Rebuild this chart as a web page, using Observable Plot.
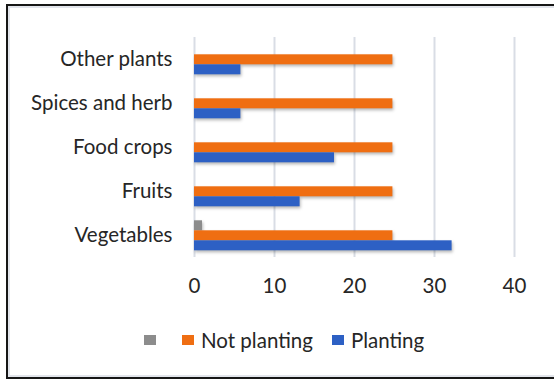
<!DOCTYPE html>
<html><head><meta charset="utf-8">
<script src="https://cdn.jsdelivr.net/npm/d3@7"></script>
<script src="https://cdn.jsdelivr.net/npm/@observablehq/plot@0.6"></script>
<style>
html,body{margin:0;padding:0;background:#fff;}
body{width:554px;height:379px;overflow:hidden;position:relative;font-family:Lato,"Open Sans",sans-serif;color:#262626;}
#frame{position:absolute;left:6px;top:4px;width:600px;height:371px;border:2px solid #161616;box-shadow:inset 2px 2px 0 #e2e5eb, inset 0 -2px 0 #e2e5eb;}
#chart{position:absolute;left:0;top:0;}
#legend{position:absolute;left:144px;top:328px;display:flex;align-items:center;gap:19px;font-size:20.5px;color:#262626;}
#legend .item{display:flex;align-items:center;}
#legend .sw{width:12px;height:10px;margin-right:7px;}
</style>
</head><body>
<div id="frame"></div>
<div id="chart"></div>
<div id="legend"></div>
<script>
const categories = ["Other plants", "Spices and herb", "Food crops", "Fruits", "Vegetables"];
const seriesNames = ["", "Not planting", "Planting"];
const seriesColors = ["#8c8c8c", "#ef6e12", "#2d60c4"];
const unnamedValues = [0, 0, 0, 0, 1.0];
const notPlantingValues = [24.8, 24.8, 24.8, 24.8, 24.8];
const plantingValues = [5.8, 5.8, 17.5, 13.2, 32.2];
const xTicks = [0, 10, 20, 30, 40];

const valuesBySeries = [unnamedValues, notPlantingValues, plantingValues];
const data = [];
categories.forEach((c, i) => {
  seriesNames.forEach((s, j) => {
    data.push({category: c, series: s, value: valuesBySeries[j][i]});
  });
});

const chart = Plot.plot({
  width: 554,
  height: 300,
  marginLeft: 194,
  marginRight: 40,
  marginTop: 36.7,
  marginBottom: 42.7,
  style: {fontFamily: "Lato, 'Open Sans', sans-serif", fontSize: "20.5px", color: "#262626", background: "transparent"},
  x: {domain: [0, 40], ticks: xTicks, axis: null},
  y: {domain: seriesNames, axis: null, paddingInner: 0, paddingOuter: 0.52},
  fy: {domain: categories, axis: null, padding: 0},
  color: {domain: seriesNames, range: seriesColors},
  marks: [
    Plot.gridX(xTicks, {stroke: "#d9dde5", strokeOpacity: 1, strokeWidth: 2}),
    Plot.barX(data, {fy: "category", y: "series", x: "value", fill: "series"}),
    Plot.axisFy({anchor: "left", label: null, tickSize: 0, tickPadding: 22, fontSize: 20.5}),
    Plot.axisX({anchor: "bottom", label: null, ticks: xTicks, tickSize: 0, tickPadding: 21, fontSize: 20.5, tickFormat: d => String(d)})
  ]
});
document.getElementById("chart").appendChild(chart);
d3.select(chart).selectAll('g[aria-label="bar"]').style("filter", "drop-shadow(1px 2px 1.5px rgba(0,0,0,0.28))");

const legend = document.getElementById("legend");
seriesNames.forEach((s, j) => {
  const item = document.createElement("div");
  item.className = "item";
  const sw = document.createElement("div");
  sw.className = "sw";
  sw.style.background = seriesColors[j];
  item.appendChild(sw);
  const t = document.createElement("span");
  t.textContent = s;
  item.appendChild(t);
  legend.appendChild(item);
});
</script>
</body></html>
